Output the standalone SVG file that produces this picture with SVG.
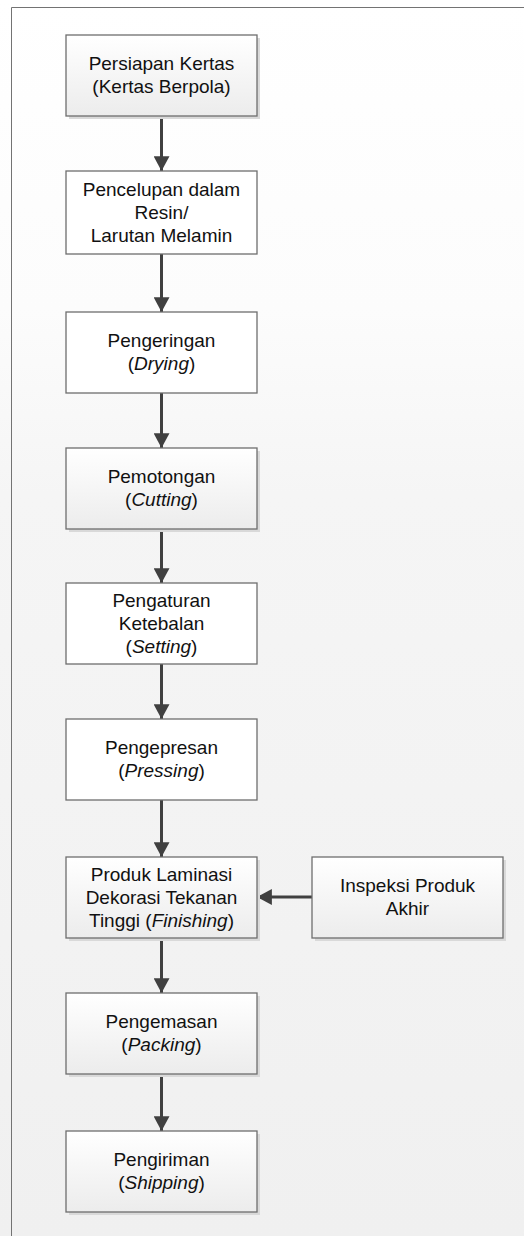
<svg xmlns="http://www.w3.org/2000/svg" width="524" height="1236" viewBox="0 0 524 1236">
<defs>
<linearGradient id="bg" x1="0" y1="0" x2="0" y2="1">
<stop offset="0" stop-color="#ffffff"/>
<stop offset="0.25" stop-color="#fcfcfc"/>
<stop offset="0.4" stop-color="#f5f5f5"/>
<stop offset="1" stop-color="#f0f0f0"/>
</linearGradient>
<linearGradient id="boxg" x1="0" y1="0" x2="0" y2="1">
<stop offset="0" stop-color="#ffffff"/>
<stop offset="1" stop-color="#ececec"/>
</linearGradient>
<marker id="ah" markerUnits="userSpaceOnUse" markerWidth="16" markerHeight="16" viewBox="0 0 14 14" refX="13" refY="7" orient="auto">
<path d="M0,0 L13,7 L0,14 Z" fill="#404040"/>
</marker>
<style>
.box{stroke:#6e6e6e;stroke-width:1.3;}
.plain{fill:#ffffff;}
.grad{fill:url(#boxg);}
.shadow{fill:#d9d9d9;}
.t{font-family:"Liberation Sans",Arial,sans-serif;font-size:19px;fill:#111111;text-anchor:middle;}
.i{font-style:italic;}
.c{stroke:#404040;stroke-width:3;fill:none;marker-end:url(#ah);}
</style>
</defs>
<rect x="0" y="0" width="524" height="1236" fill="url(#bg)"/>
<path d="M11.5,1236 L11.5,7.5 L524,7.5" fill="none" stroke="#737373" stroke-width="1"/>

<g id="connectors">
<path class="c" d="M161.5,116 L161.5,171"/>
<path class="c" d="M161.5,254 L161.5,312"/>
<path class="c" d="M161.5,393 L161.5,448"/>
<path class="c" d="M161.5,529 L161.5,583"/>
<path class="c" d="M161.5,664 L161.5,719"/>
<path class="c" d="M161.5,800 L161.5,857"/>
<path class="c" d="M161.5,938 L161.5,993"/>
<path class="c" d="M161.5,1074 L161.5,1131"/>
<path class="c" d="M312,897 L257,897"/>
</g>

<g id="n1">
<rect class="shadow" x="69" y="38" width="191" height="81"/>
<rect class="box grad" x="66" y="35" width="191" height="81"/>
<text class="t" x="161.5" y="70">Persiapan Kertas</text>
<text class="t" x="161.5" y="93">(Kertas Berpola)</text>
</g>

<g id="n2">
<rect class="box plain" x="66" y="171" width="191" height="83"/>
<text class="t" x="161.5" y="196">Pencelupan dalam</text>
<text class="t" x="161.5" y="219">Resin/</text>
<text class="t" x="161.5" y="242">Larutan Melamin</text>
</g>

<g id="n3">
<rect class="box plain" x="66" y="312" width="191" height="81"/>
<text class="t" x="161.5" y="347">Pengeringan</text>
<text class="t" x="161.5" y="370">(<tspan class="i">Drying</tspan>)</text>
</g>

<g id="n4">
<rect class="shadow" x="69" y="451" width="191" height="81"/>
<rect class="box grad" x="66" y="448" width="191" height="81"/>
<text class="t" x="161.5" y="483">Pemotongan</text>
<text class="t" x="161.5" y="506">(<tspan class="i">Cutting</tspan>)</text>
</g>

<g id="n5">
<rect class="box plain" x="66" y="583" width="191" height="81"/>
<text class="t" x="161.5" y="607">Pengaturan</text>
<text class="t" x="161.5" y="630">Ketebalan</text>
<text class="t" x="161.5" y="653">(<tspan class="i">Setting</tspan>)</text>
</g>

<g id="n6">
<rect class="box plain" x="66" y="719" width="191" height="81"/>
<text class="t" x="161.5" y="754">Pengepresan</text>
<text class="t" x="161.5" y="777">(<tspan class="i">Pressing</tspan>)</text>
</g>

<g id="n7">
<rect class="shadow" x="69" y="860" width="191" height="81"/>
<rect class="box grad" x="66" y="857" width="191" height="81"/>
<text class="t" x="161.5" y="881">Produk Laminasi</text>
<text class="t" x="161.5" y="904">Dekorasi Tekanan</text>
<text class="t" x="161.5" y="927">Tinggi (<tspan class="i">Finishing</tspan>)</text>
</g>

<g id="n8">
<rect class="shadow" x="315" y="860" width="191" height="81"/>
<rect class="box grad" x="312" y="857" width="191" height="81"/>
<text class="t" x="407.5" y="892">Inspeksi Produk</text>
<text class="t" x="407.5" y="915">Akhir</text>
</g>

<g id="n9">
<rect class="shadow" x="69" y="996" width="191" height="81"/>
<rect class="box grad" x="66" y="993" width="191" height="81"/>
<text class="t" x="161.5" y="1028">Pengemasan</text>
<text class="t" x="161.5" y="1051">(<tspan class="i">Packing</tspan>)</text>
</g>

<g id="n10">
<rect class="shadow" x="69" y="1134" width="191" height="81"/>
<rect class="box grad" x="66" y="1131" width="191" height="81"/>
<text class="t" x="161.5" y="1166">Pengiriman</text>
<text class="t" x="161.5" y="1189">(<tspan class="i">Shipping</tspan>)</text>
</g>
</svg>
